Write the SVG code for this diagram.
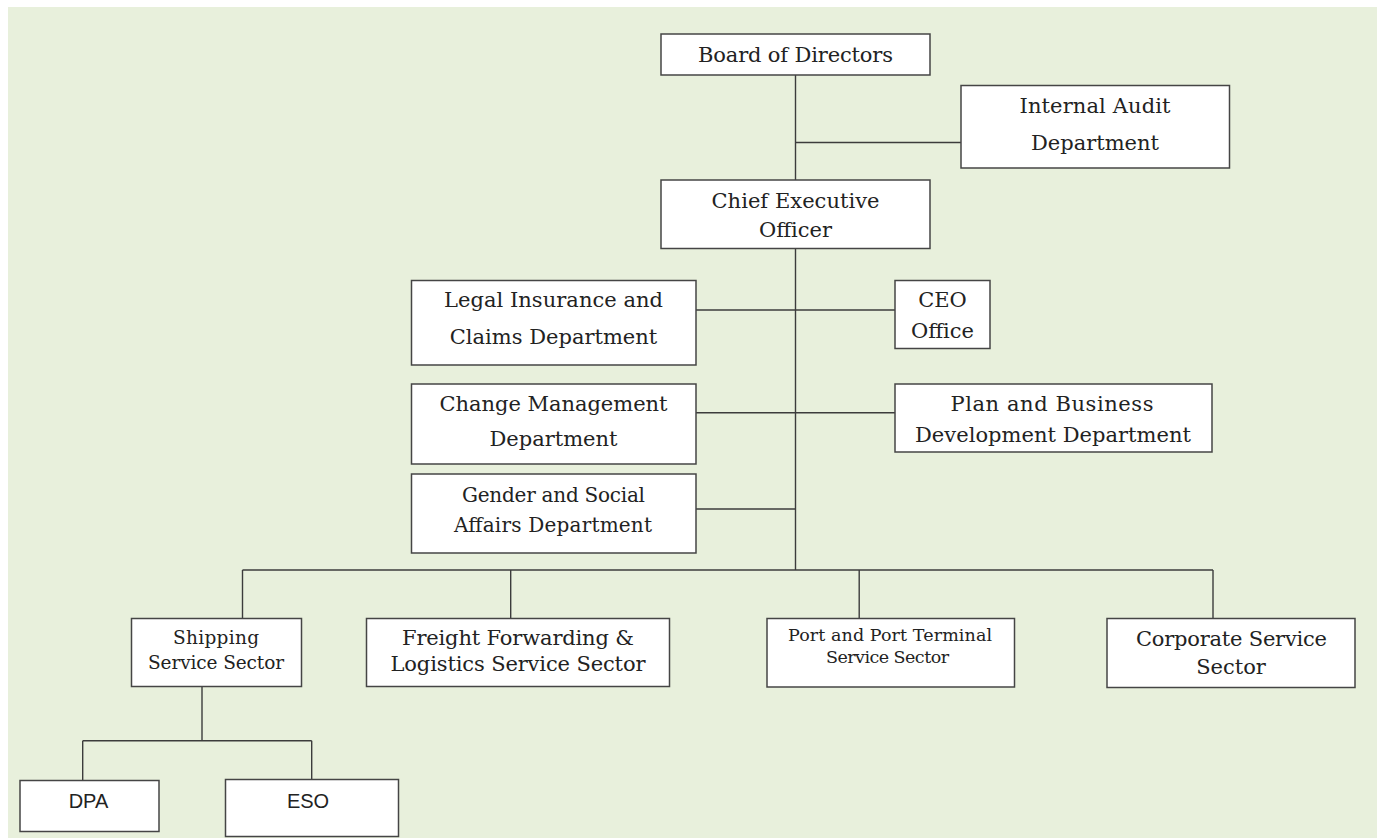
<svg xmlns="http://www.w3.org/2000/svg" width="1377" height="838" viewBox="0 0 1377 838">
<style>
.box{fill:#ffffff;stroke:#454545;stroke-width:1.5}
.ln{stroke:#3c3c3c;stroke-width:1.4;fill:none}
.t{font-family:"DejaVu Serif","Liberation Serif",serif;font-size:21px;fill:#222;text-anchor:middle}
.tn{font-family:"DejaVu Serif","Liberation Serif",serif;font-size:20px;fill:#222;text-anchor:middle}
.ts{font-family:"DejaVu Serif","Liberation Serif",serif;font-size:17.5px;fill:#222;text-anchor:middle}
.tm{font-family:"DejaVu Serif","Liberation Serif",serif;font-size:18.5px;fill:#222;text-anchor:middle}
.sans{font-family:"Liberation Sans","Noto Sans",sans-serif;font-size:20px;fill:#222;text-anchor:middle}
</style>
<rect x="0" y="0" width="1377" height="838" fill="#ffffff"/>
<rect x="8" y="7" width="1369" height="831" fill="#e8f0dc"/>
<g id="connectors">
<path class="ln" d="M795.5 75 V180"/>
<path class="ln" d="M795.5 142.5 H961"/>
<path class="ln" d="M795.5 248.5 V570"/>
<path class="ln" d="M696 310 H895"/>
<path class="ln" d="M696 412.7 H895"/>
<path class="ln" d="M696 509 H795.5"/>
<path class="ln" d="M242.5 570 H1213"/>
<path class="ln" d="M242.5 570 V618.5"/>
<path class="ln" d="M510.7 570 V618.5"/>
<path class="ln" d="M859.2 570 V618.5"/>
<path class="ln" d="M1213 570 V618.5"/>
<path class="ln" d="M202 686.7 V740.7"/>
<path class="ln" d="M82.7 740.7 H311.7"/>
<path class="ln" d="M82.7 740.7 V780.5"/>
<path class="ln" d="M311.7 740.7 V779.5"/>
</g>
<g id="board"><rect class="box" x="661" y="34" width="269" height="41"/><text class="t" x="795.5" y="62" textLength="195">Board of Directors</text></g>
<g id="audit"><rect class="box" x="961" y="85.5" width="268.5" height="82.5"/><text class="t" x="1095" y="113" textLength="151">Internal Audit</text><text class="t" x="1095" y="149.5">Department</text></g>
<g id="ceo"><rect class="box" x="661" y="180" width="269" height="68.5"/><text class="t" x="795.5" y="207.5" textLength="168">Chief Executive</text><text class="t" x="795.5" y="236.5">Officer</text></g>
<g id="legal"><rect class="box" x="411.5" y="280.5" width="284.5" height="84.5"/><text class="t" x="553.5" y="307" textLength="219">Legal Insurance and</text><text class="t" x="553.5" y="343.5">Claims Department</text></g>
<g id="ceooffice"><rect class="box" x="895" y="280.5" width="95" height="68"/><text class="t" x="942.5" y="307">CEO</text><text class="t" x="942.5" y="337.5">Office</text></g>
<g id="change"><rect class="box" x="411.5" y="384" width="284.5" height="80"/><text class="t" x="553.5" y="410.5" textLength="228">Change Management</text><text class="t" x="553.5" y="446">Department</text></g>
<g id="plan"><rect class="box" x="895" y="384" width="317" height="68"/><text class="t" x="1052" y="410.5" textLength="203">Plan and Business</text><text class="t" x="1053" y="441.5" textLength="276">Development Department</text></g>
<g id="gender"><rect class="box" x="411.5" y="474" width="284.5" height="79"/><text class="tn" x="553.5" y="501.5" textLength="183">Gender and Social</text><text class="tn" x="553" y="531.5" textLength="198">Affairs Department</text></g>
<g id="shipping"><rect class="box" x="131.5" y="618.5" width="170" height="68"/><text class="tm" x="216" y="643.5" textLength="86">Shipping</text><text class="tm" x="216" y="668.5" textLength="136">Service Sector</text></g>
<g id="freight"><rect class="box" x="366.5" y="618.5" width="303" height="68"/><text class="t" x="518" y="644.5" textLength="232">Freight Forwarding &amp;</text><text class="t" x="518" y="670.5" textLength="255">Logistics Service Sector</text></g>
<g id="port"><rect class="box" x="767" y="618.5" width="247.5" height="68.5"/><text class="ts" x="890" y="640.5" textLength="204">Port and Port Terminal</text><text class="ts" x="887.5" y="663" textLength="123">Service Sector</text></g>
<g id="corporate"><rect class="box" x="1107" y="618.5" width="248" height="69"/><text class="t" x="1231.5" y="645.5" textLength="191">Corporate Service</text><text class="t" x="1231" y="673.5">Sector</text></g>
<g id="dpa"><rect class="box" x="20" y="780.5" width="139" height="51"/><text class="sans" x="88.5" y="807.5">DPA</text></g>
<g id="eso"><rect class="box" x="225.5" y="779.5" width="173" height="57"/><text class="sans" x="308" y="807.5">ESO</text></g>
</svg>
